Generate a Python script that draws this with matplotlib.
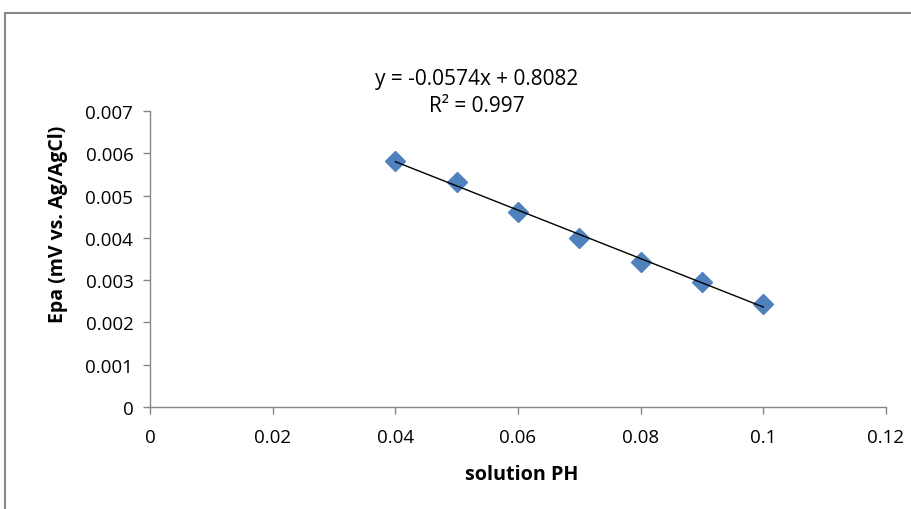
import numpy as np
import matplotlib
matplotlib.use("Agg")
import matplotlib.pyplot as plt
from matplotlib.patches import Rectangle

ph = [0.04, 0.05, 0.06, 0.07, 0.08, 0.09, 0.10]
epa = [0.00582, 0.00532, 0.00461, 0.00400, 0.00343, 0.00296, 0.00244]
xticks = [0, 0.02, 0.04, 0.06, 0.08, 0.1, 0.12]
xticklabels = ["0", "0.02", "0.04", "0.06", "0.08", "0.1", "0.12"]
yticks = [0, 0.001, 0.002, 0.003, 0.004, 0.005, 0.006, 0.007]
yticklabels = ["0", "0.001", "0.002", "0.003", "0.004", "0.005", "0.006", "0.007"]
eq_text = "y = -0.0574x + 0.8082"
r2_text = "R² = 0.997"

plt.rcParams['font.family'] = ['Open Sans', 'DejaVu Sans']

fig = plt.figure(figsize=(9.12, 5.10), dpi=100)
ax = fig.add_axes([150/912, 1-408/510, (886-150)/912, (408-112)/510])

# trendline
coef = np.polyfit(ph, epa, 1)
xl = np.array([min(ph), max(ph)])
ax.plot(xl, np.polyval(coef, xl), color='black', lw=1.0, zorder=3)
ax.plot(ph, epa, linestyle='none', marker='D', markersize=10,
        color='#4F81BD', markeredgecolor='#4F81BD', zorder=2)

ax.set_xlim(0, 0.12)
ax.set_ylim(0, 0.007)
ax.set_xticks(xticks)
ax.set_xticklabels(xticklabels)
ax.set_yticks(yticks)
ax.set_yticklabels(yticklabels)
for s in ['top', 'right']:
    ax.spines[s].set_visible(False)
for s in ['left', 'bottom']:
    ax.spines[s].set_color('#868686')
    ax.spines[s].set_linewidth(1.0)
ax.tick_params(axis='both', colors='#868686', length=5, width=1.0,
               labelsize=13.5, labelcolor='black', direction='out')
ax.tick_params(axis='x', pad=10)
ax.tick_params(axis='y', pad=7)

fig.text(522/912, 1-475/510, "solution PH", ha='center', va='center',
         fontsize=14.2, fontweight='bold')
fig.text(58/912, 1-224/510, "Epa (mV vs. Ag/AgCl)", ha='center', va='center',
         fontsize=14, fontweight='bold', rotation=90)

fig.text(477/912, 1-80/510, eq_text, ha='center', va='center', fontsize=15)
fig.text(477/912, 1-107/510, r2_text, ha='center', va='center', fontsize=15)

fig.patches.append(Rectangle((5/912, -0.2), 1.2, (510-14)/510 + 0.2,
                             transform=fig.transFigure, fill=False,
                             edgecolor='#888888', linewidth=1.5))

fig.savefig("out.png", dpi=100)
